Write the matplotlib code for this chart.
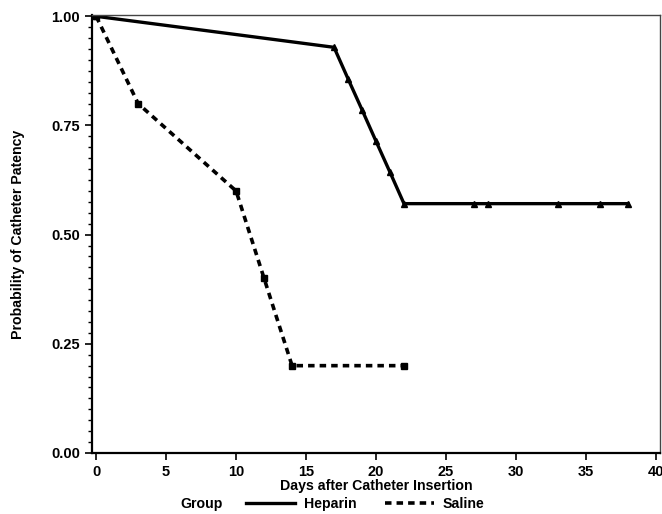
import matplotlib
matplotlib.use('agg')
import matplotlib.pyplot as plt
import numpy as np
from matplotlib.ticker import MultipleLocator

plt.rcParams['font.family'] = ['Liberation Sans', 'DejaVu Sans']
plt.rcParams['font.weight'] = 'bold'

# Kaplan-Meier estimates
heparin_days = [0, 17, 18, 19, 20, 21, 22, 27, 28, 33, 36, 38]
heparin_prob = [1.0, 0.929, 0.857, 0.786, 0.714, 0.643, 0.571, 0.571, 0.571, 0.571, 0.571, 0.571]

saline_days = [0, 3, 10, 12, 14, 22]
saline_prob = [1.0, 0.8, 0.6, 0.4, 0.2, 0.2]

x_ticks = [0, 5, 10, 15, 20, 25, 30, 35, 40]
y_ticks = [0.0, 0.25, 0.5, 0.75, 1.0]

fig = plt.figure(figsize=(6.62, 5.14), dpi=100)
ax = fig.add_axes([92 / 662, 1 - 453 / 514, 568 / 662, 438 / 514])

h_line, = ax.plot(heparin_days, heparin_prob, color='black', lw=2.4,
                  marker='^', markersize=4.5, solid_joinstyle='miter')
s_line, = ax.plot(saline_days, saline_prob, color='black', lw=2.6,
                  linestyle=(0, (1.8, 1.4)), marker='s', markersize=4.5)

ax.set_xlim(-0.3, 40.3)
ax.set_ylim(0, 1.003)
ax.set_xticks(x_ticks)
ax.set_yticks(y_ticks)
ax.set_yticklabels(['%.2f' % v for v in y_ticks])
ax.yaxis.set_minor_locator(MultipleLocator(0.025))
ax.tick_params(axis='both', which='major', direction='out', length=5, width=1.2,
               labelsize=10.5)
ax.tick_params(axis='y', which='minor', direction='out', length=3, width=1)
for side in ['left', 'bottom']:
    ax.spines[side].set_linewidth(1.6)
for side in ['top', 'right']:
    ax.spines[side].set_linewidth(1.0)
    ax.spines[side].set_color('#444444')

ax.set_xlabel('Days after Catheter Insertion', fontsize=10.2, fontweight='bold', labelpad=0)
ax.set_ylabel('Probability of Catheter Patency', fontsize=10.2, fontweight='bold', labelpad=19)

fig.text(180 / 662, 1 - 504 / 514, 'Group', fontsize=10.2, fontweight='bold',
         ha='left', va='center')
fig.legend([h_line, s_line], ['Heparin', 'Saline'], ncol=2, frameon=False,
           loc='center left', bbox_to_anchor=(233 / 662, 1 - 504 / 514),
           handlelength=3.5, columnspacing=2.0, handletextpad=0.6,
           fontsize=10.2, markerscale=0)

fig.savefig('out.png', dpi=100)
